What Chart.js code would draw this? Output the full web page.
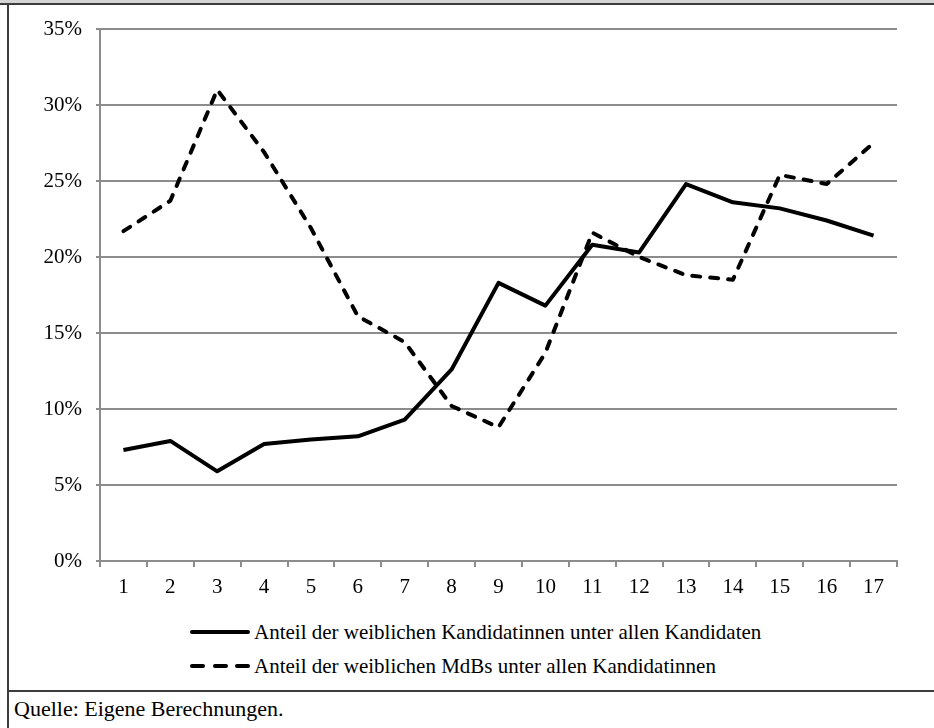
<!DOCTYPE html>
<html>
<head>
<meta charset="utf-8">
<script src="https://cdn.jsdelivr.net/npm/chart.js@4"></script>
<style>
  body { margin: 0; width: 934px; height: 728px; background: #fff; position: relative; overflow: hidden; font-family: "Liberation Serif", "DejaVu Serif", serif; }
  .abs { position: absolute; }
  #chart { position: absolute; left: 0; top: 0; }
  .row { position: absolute; left: 190px; height: 24px; display: flex; align-items: center; font-family: "Liberation Serif", serif; font-size: 21px; color: #000; }
  .sample { width: 60px; height: 4px; margin-right: 4px; display: flex; justify-content: space-between; }
  .sample span { display: block; height: 4px; background: #000; border-radius: 2px; }
</style>
</head>
<body>
<div class="abs" style="left:0;top:0;width:934px;height:3px;background:#d4d4d4"></div>
<div class="abs" style="left:0;top:3px;width:934px;height:2px;background:#3c3c3c"></div>
<div class="abs" style="left:7px;top:3px;width:2px;height:725px;background:#3c3c3c"></div>
<div class="abs" style="left:7px;top:690px;width:927px;height:2px;background:#3c3c3c"></div>
<canvas id="chart" width="934" height="600"></canvas>
<div class="row" style="top:620px"><div class="sample"><span style="width:60px"></span></div>Anteil der weiblichen Kandidatinnen unter allen Kandidaten</div>
<div class="row" style="top:654px"><div class="sample"><span style="width:15px"></span><span style="width:15px"></span><span style="width:15px"></span></div>Anteil der weiblichen MdBs unter allen Kandidatinnen</div>
<div class="abs" style="left:14px;top:696px;font-family:'Liberation Serif',serif;font-size:22px;line-height:26px">Quelle: Eigene Berechnungen.</div>
<script>
const periods = ["1", "2", "3", "4", "5", "6", "7", "8", "9", "10", "11", "12", "13", "14", "15", "16", "17"];
const candidateShare = [7.3, 7.9, 5.9, 7.7, 8.0, 8.2, 9.3, 12.6, 18.3, 16.8, 20.8, 20.3, 24.8, 23.6, 23.2, 22.4, 21.4];
const mdbShare = [21.7, 23.7, 31.0, 26.9, 21.9, 16.1, 14.4, 10.2, 8.8, 13.7, 21.6, 20.0, 18.8, 18.5, 25.4, 24.8, 27.5];
const yTicks = [0, 5, 10, 15, 20, 25, 30, 35];

const gridGray = "#8c8c8c";
const tickFont = { family: "'Liberation Serif', 'DejaVu Serif', serif", size: 21 };

new Chart(document.getElementById("chart").getContext("2d"), {
    type: "line",
    data: {
        labels: periods,
        datasets: [
            {
                label: "Anteil der weiblichen Kandidatinnen unter allen Kandidaten",
                data: candidateShare,
                borderColor: "#000",
                borderWidth: 4,
                borderJoinStyle: "round",
                pointRadius: 0,
                tension: 0
            },
            {
                label: "Anteil der weiblichen MdBs unter allen Kandidatinnen",
                data: mdbShare,
                borderColor: "#000",
                borderWidth: 4,
                borderDash: [8, 10],
                borderCapStyle: "round",
                borderJoinStyle: "round",
                pointRadius: 0,
                tension: 0
            }
        ]
    },
    options: {
        responsive: false,
        animation: false,
        layout: { padding: { top: 29, right: 37, left: 0, bottom: 0 } },
        plugins: {
            legend: { display: false },
            tooltip: { enabled: false }
        },
        scales: {
            x: {
                offset: true,
                grid: { offset: true, drawOnChartArea: false, tickLength: 6, color: gridGray, lineWidth: 2 },
                border: { color: gridGray, width: 2 },
                ticks: { color: "#000", font: tickFont, padding: 8, maxRotation: 0, autoSkip: false },
                afterFit: s => { s.height = 39; }
            },
            y: {
                min: 0,
                max: 35,
                afterBuildTicks: s => { s.ticks = yTicks.map(v => ({ value: v })); },
                grid: { color: gridGray, lineWidth: 2, tickLength: 4 },
                border: { color: gridGray, width: 2 },
                ticks: { color: "#000", font: tickFont, padding: 14, callback: v => v + "%" },
                afterFit: s => { s.width = 100; }
            }
        }
    }
});
</script>
</body>
</html>
